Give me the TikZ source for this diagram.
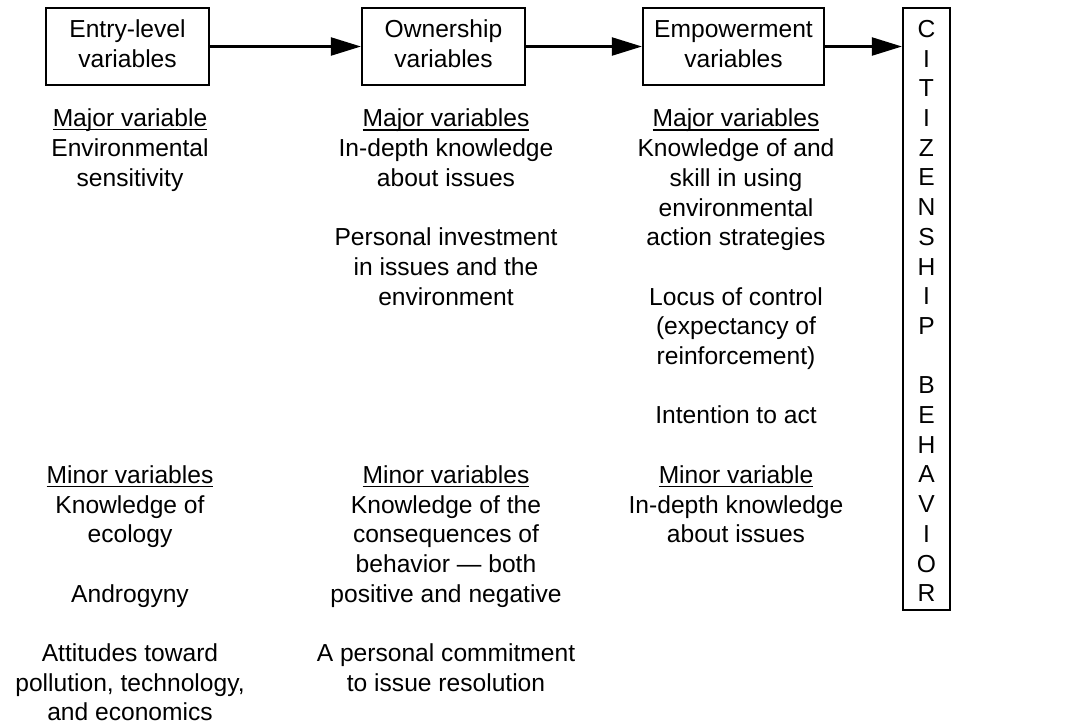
\documentclass[tikz,border=0pt]{standalone}
\usepackage{fontspec}
\setmainfont{Liberation Sans}
\usetikzlibrary{arrows.meta}

\newsavebox{\headbox}
\newcommand{\varhead}[1]{\sbox{\headbox}{#1}\rlap{\rule[-1.8pt]{\wd\headbox}{0.65pt}}\usebox{\headbox}}

\tikzset{
	varbox/.style={draw,line width=1.1pt,inner sep=0pt,minimum height=38.5pt,align=center},
	vartext/.style={inner sep=0pt,anchor=north,align=center},
	flow/.style={line width=1.1pt,-{Triangle[length=15pt,width=9pt]}}
}

\begin{document}
\begin{tikzpicture}[x=0.5pt,y=-0.5pt,font=\fontsize{12.3}{14.85}\selectfont]
	\useasboundingbox (0,0) rectangle (1067,725);
	\node[varbox,minimum width=81.5pt] (entry) at (127.5,46.5) {\strut Entry-level\\\strut variables};
	\node[varbox,minimum width=81.5pt] (own) at (443.5,46.5) {\strut Ownership\\\strut variables};
	\node[varbox,minimum width=90.5pt] (emp) at (733.5,46.5) {\strut Empowerment\\\strut variables};
	\node[varbox,minimum width=23.5pt,minimum height=301pt] (cit) at (926.5,309) {};
	\foreach \ch [count=\k from 0] in {C,I,T,I,Z,E,N,S,H,I,P,{},B,E,H,A,V,I,O,R}
		\node[anchor=base,inner sep=0pt] (cit\k) at (926.5,{37.4+29.7*\k}) {\ch};
	\draw[flow] (entry) -- (own);
	\draw[flow] (own) -- (emp);
	\draw[flow] (emp) -- (emp -| cit.west);
	\node[vartext] (entrymaj) at (130,105.7) {\strut\varhead{Major variable}\\Environmental\\sensitivity};
	\node[vartext] (entrymin) at (130,462.1) {\strut\varhead{Minor variables}\\Knowledge of\\ecology\\[\baselineskip]Androgyny\\[\baselineskip]Attitudes toward\\pollution, technology,\\and economics};
	\node[vartext] (ownmaj) at (446,105.7) {\strut\varhead{Major variables}\\In-depth knowledge\\about issues\\[\baselineskip]Personal investment\\in issues and the\\environment};
	\node[vartext] (ownmin) at (446,462.1) {\strut\varhead{Minor variables}\\Knowledge of the\\consequences of\\behavior — both\\positive and negative\\[\baselineskip]A personal commitment\\to issue resolution};
	\node[vartext] (empmaj) at (736,105.7) {\strut\varhead{Major variables}\\Knowledge of and\\skill in using\\environmental\\action strategies\\[\baselineskip]Locus of control\\(expectancy of\\reinforcement)\\[\baselineskip]Intention to act};
	\node[vartext] (empmin) at (736,462.1) {\strut\varhead{Minor variable}\\In-depth knowledge\\about issues};
\end{tikzpicture}
\end{document}
